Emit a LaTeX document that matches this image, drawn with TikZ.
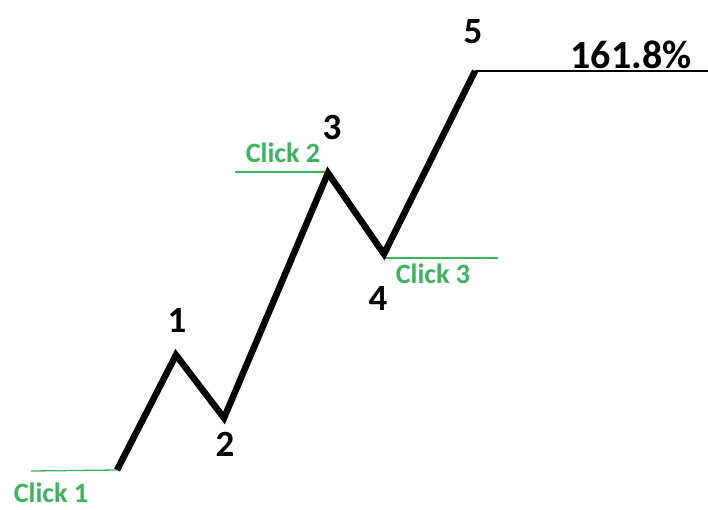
\documentclass[tikz,border=0pt]{standalone}
\usepackage{fontspec}
\setmainfont{Carlito}
\usepackage{xcolor}
\usetikzlibrary{positioning}
\definecolor{clickgreen}{RGB}{60,180,95}

\begin{document}
\begin{tikzpicture}[x=1pt, y=-1pt, wave/.style={line width=6.5pt, black}, level/.style={line width=1.3pt, clickgreen}, num/.style={font=\bfseries\fontsize{37}{37}\selectfont, inner sep=0pt}, click/.style={font=\bfseries\fontsize{28}{28}\selectfont, text=clickgreen, inner sep=0pt, text depth=0pt}]
\useasboundingbox (0,0) rectangle (708,509);

% wave points
\coordinate (w0) at (117,470);
\coordinate (w1) at (176,355);
\coordinate (w2) at (224,418);
\coordinate (w3) at (328,173);
\coordinate (w4) at (384,254);
\coordinate (w5) at (475,71);

% level ends
\coordinate (c1) at (31,471);
\coordinate (c2) at (235,172);
\coordinate (c2e) at (328,172);
\coordinate (c3) at (384,258);
\coordinate (c3e) at (498,258);
\coordinate (t5) at (708,71);

\draw[level] (c1) -- (w0);
\draw[level] (c2) -- (c2e);
\draw[level] (c3) -- (c3e);
\draw[line width=1.2pt] (w5) -- (t5);

\draw[wave] (w0) -- (w1) -- (w2) -- (w3) -- (w4) -- (w5);

\node[num] (n1) at (177,320) {1};
\node[num] (n2) at (225,444) {2};
\node[num] (n3) at (332,127) {3};
\node[num] (n4) at (378,298) {4};
\node[num] (n5) at (473,32) {5};
\node[num, font=\bfseries\fontsize{40}{40}\selectfont] (fib) at (631,55) {161.8\%};

\node[click] (k1) at (51,493) {Click 1};
\node[click] (k2) at (283,153) {Click 2};
\node[click] (k3) at (433,274) {Click 3};
\end{tikzpicture}
\end{document}
